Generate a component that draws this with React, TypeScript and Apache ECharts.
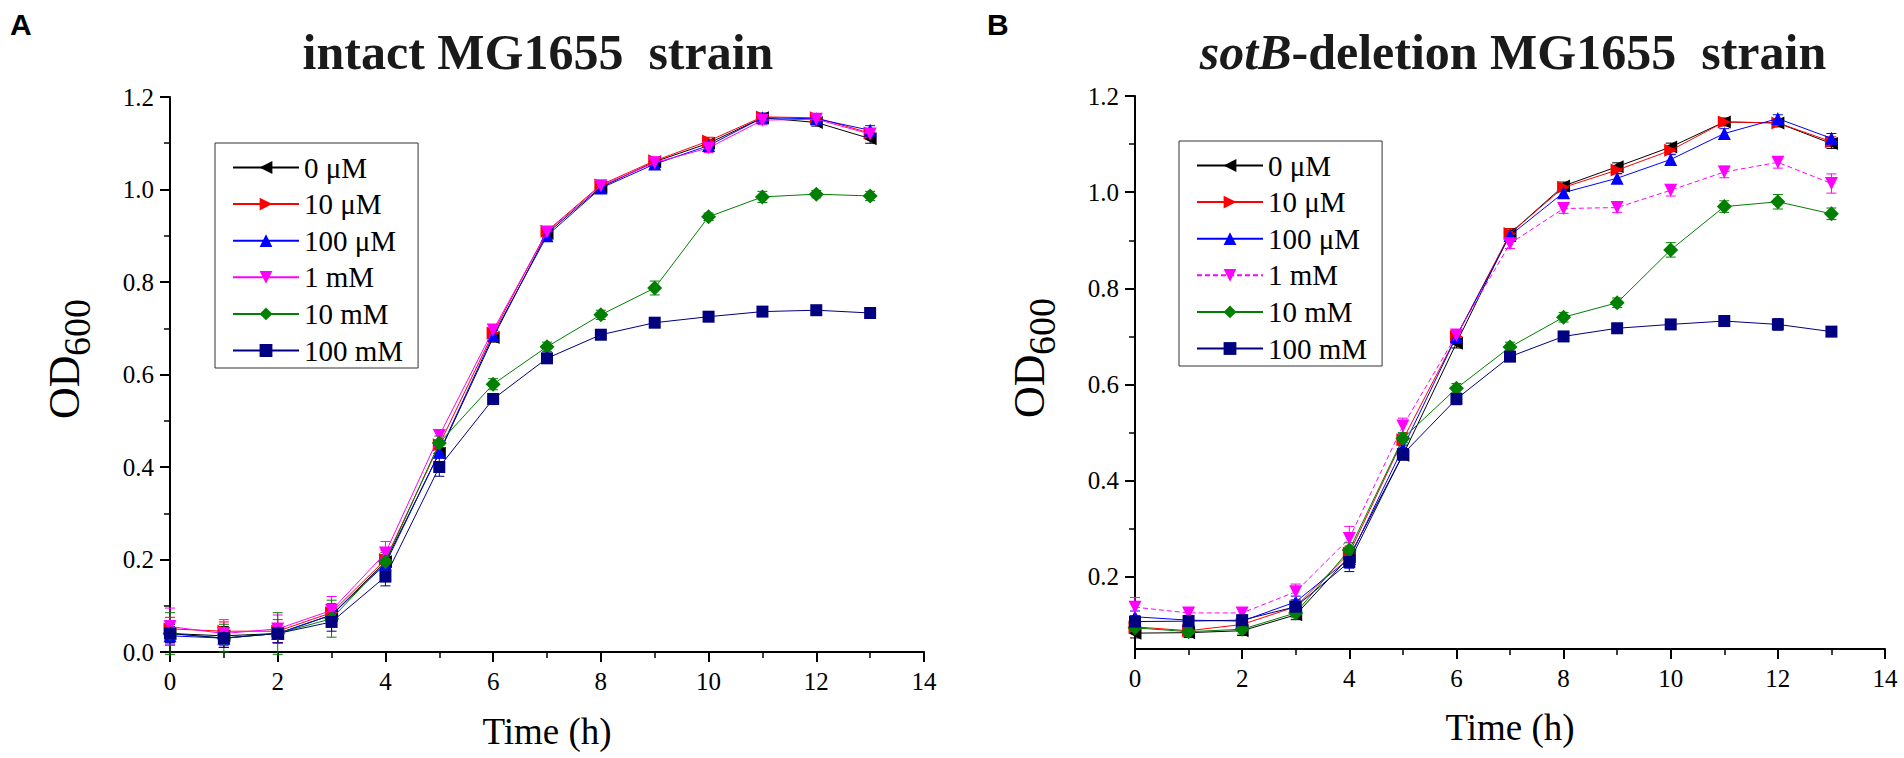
import React, { useEffect, useRef } from "react";
import * as echarts from "echarts";

// ---------------- data ----------------
const TIME_H = [0, 1, 2, 3, 4, 5, 6, 7, 8, 9, 10, 11, 12, 13];
const SERIES_NAMES = ["0 μM", "10 μM", "100 μM", "1 mM", "10 mM", "100 mM"];
const Y_TICKS_B = [0.2, 0.4, 0.6, 0.8, 1.0, 1.2];
const Y_MINOR_B = [0.1, 0.3, 0.5, 0.7, 0.9, 1.1];

// Panel A: intact MG1655 strain (OD600)
const A_0UM = [0.04, 0.035, 0.04, 0.08, 0.195, 0.43, 0.68, 0.905, 1.005, 1.06, 1.1, 1.155, 1.145, 1.11];
const A_10UM = [0.05, 0.045, 0.045, 0.085, 0.2, 0.448, 0.69, 0.91, 1.01, 1.062, 1.105, 1.157, 1.155, 1.122];
const A_100UM = [0.035, 0.03, 0.04, 0.08, 0.19, 0.432, 0.685, 0.9, 1.003, 1.055, 1.095, 1.155, 1.153, 1.128];
const A_1MM = [0.055, 0.04, 0.05, 0.09, 0.214, 0.468, 0.696, 0.908, 1.008, 1.058, 1.09, 1.15, 1.152, 1.12];
const A_10MM = [0.04, 0.03, 0.04, 0.072, 0.195, 0.452, 0.579, 0.66, 0.729, 0.787, 0.941, 0.984, 0.99, 0.986];
const A_100MM = [0.04, 0.03, 0.04, 0.065, 0.163, 0.4, 0.547, 0.635, 0.686, 0.712, 0.725, 0.736, 0.739, 0.733];

const A_ERR_0UM = [0.02, 0.02, 0.02, 0.015, 0.015, 0.01, 0.01, 0.01, 0.008, 0.008, 0.008, 0.008, 0.008, 0.01];
const A_ERR_10UM = [0.025, 0.02, 0.025, 0.02, 0.02, 0.01, 0.01, 0.01, 0.008, 0.008, 0.008, 0.008, 0.008, 0.01];
const A_ERR_100UM = [0.02, 0.02, 0.02, 0.015, 0.015, 0.01, 0.01, 0.01, 0.008, 0.008, 0.008, 0.01, 0.008, 0.01];
const A_ERR_1MM = [0.04, 0.03, 0.03, 0.03, 0.025, 0.012, 0.012, 0.01, 0.008, 0.008, 0.01, 0.01, 0.008, 0.01];
const A_ERR_10MM = [0.045, 0.03, 0.045, 0.04, 0.02, 0.015, 0.012, 0.01, 0.01, 0.015, 0.008, 0.012, 0.008, 0.01];
const A_ERR_100MM = [0.02, 0.02, 0.02, 0.02, 0.02, 0.02, 0.012, 0.01, 0.01, 0.01, 0.008, 0.008, 0.008, 0.008];

// Panel B: sotB-deletion MG1655 strain (OD600)
const B_0UM = [0.083, 0.084, 0.088, 0.121, 0.242, 0.453, 0.686, 0.914, 1.013, 1.053, 1.094, 1.146, 1.144, 1.101];
const B_10UM = [0.096, 0.088, 0.101, 0.138, 0.249, 0.485, 0.7, 0.914, 1.01, 1.046, 1.087, 1.146, 1.144, 1.105];
const B_100UM = [0.117, 0.11, 0.108, 0.148, 0.238, 0.468, 0.7, 0.91, 0.999, 1.029, 1.068, 1.122, 1.153, 1.112];
const B_1MM = [0.137, 0.125, 0.125, 0.169, 0.28, 0.514, 0.703, 0.893, 0.966, 0.968, 1.004, 1.042, 1.062, 1.018];
const B_10MM = [0.094, 0.086, 0.091, 0.125, 0.256, 0.488, 0.592, 0.678, 0.74, 0.77, 0.88, 0.97, 0.98, 0.955];
const B_100MM = [0.107, 0.108, 0.11, 0.138, 0.231, 0.455, 0.57, 0.658, 0.7, 0.717, 0.725, 0.732, 0.725, 0.71];

const B_ERR_0UM = [0.01, 0.01, 0.01, 0.01, 0.015, 0.01, 0.01, 0.01, 0.008, 0.008, 0.008, 0.008, 0.008, 0.01];
const B_ERR_10UM = [0.01, 0.01, 0.01, 0.01, 0.015, 0.012, 0.01, 0.01, 0.008, 0.008, 0.008, 0.008, 0.008, 0.01];
const B_ERR_100UM = [0.012, 0.01, 0.01, 0.012, 0.02, 0.012, 0.01, 0.01, 0.01, 0.01, 0.01, 0.01, 0.008, 0.01];
const B_ERR_1MM = [0.02, 0.008, 0.008, 0.016, 0.025, 0.016, 0.01, 0.01, 0.01, 0.01, 0.012, 0.012, 0.012, 0.02];
const B_ERR_10MM = [0.01, 0.01, 0.01, 0.01, 0.015, 0.012, 0.01, 0.01, 0.01, 0.01, 0.015, 0.012, 0.015, 0.012];
const B_ERR_100MM = [0.012, 0.01, 0.01, 0.012, 0.02, 0.012, 0.012, 0.01, 0.01, 0.01, 0.01, 0.01, 0.012, 0.01];

// ---------------- styles ----------------
const COLORS = ["#000000", "#ff0000", "#0000ff", "#ff00ff", "#008000", "#000080"];
const SYMBOLS = ["triangle", "triangle", "triangle", "triangle", "diamond", "rect"];
const ROTATES = [90, -90, 0, 180, 0, 0];
const SIZES = [13, 13, 13, 13, 15, 12];
const SERIF = "Liberation Serif";
const SANS = "Liberation Sans";

function buildSeries(values: number[][], errs: number[][], dashed: number) {
  const out: any[] = [];
  values.forEach((vals, i) => {
    const color = COLORS[i];
    out.push({
      type: "custom",
      name: SERIES_NAMES[i] + " err",
      silent: true,
      z: 1,
      data: TIME_H.map((t, j) => [t, vals[j] - errs[i][j], vals[j] + errs[i][j]]),
      encode: { x: 0, y: [1, 2] },
      renderItem: (params: any, api: any) => {
        const t = api.value(0);
        const lo = api.coord([t, api.value(1)]);
        const hi = api.coord([t, api.value(2)]);
        const w = 5;
        const st = { stroke: color, lineWidth: 1 };
        return {
          type: "group",
          children: [
            { type: "line", shape: { x1: lo[0], y1: lo[1], x2: hi[0], y2: hi[1] }, style: st },
            { type: "line", shape: { x1: lo[0] - w, y1: lo[1], x2: lo[0] + w, y2: lo[1] }, style: st },
            { type: "line", shape: { x1: hi[0] - w, y1: hi[1], x2: hi[0] + w, y2: hi[1] }, style: st },
          ],
        };
      },
    });
  });
  values.forEach((vals, i) => {
    out.push({
      type: "line",
      name: SERIES_NAMES[i],
      data: TIME_H.map((t, j) => [t, vals[j]]),
      symbol: SYMBOLS[i],
      symbolSize: SIZES[i],
      symbolRotate: ROTATES[i],
      showSymbol: true,
      z: 2 + i,
      itemStyle: { color: COLORS[i] },
      lineStyle: { color: COLORS[i], width: 1, type: i === dashed ? [5, 3] : "solid" },
      emphasis: { disabled: true },
    });
  });
  return out;
}

const tickStyle = { color: "#000", width: 2 };

function xAxisOpt() {
  return {
    type: "value",
    min: 0,
    max: 14,
    interval: 2,
    axisLine: { show: true, onZero: false, lineStyle: tickStyle },
    axisTick: { show: true, length: 10, lineStyle: tickStyle },
    minorTick: { show: true, splitNumber: 2, length: 6, lineStyle: { color: "#000", width: 1.5 } },
    splitLine: { show: false },
    minorSplitLine: { show: false },
    axisLabel: { fontSize: 25, fontFamily: SERIF, color: "#000", margin: 17 },
  };
}

const LEGEND_TEXT = { fontSize: 29, lineHeight: 29, fontFamily: SERIF, fontWeight: "normal", color: "#000" };

function legendOpt(left: number, top: number) {
  return {
    orient: "vertical",
    left,
    top,
    data: SERIES_NAMES.map((n) => ({ name: n, textStyle: LEGEND_TEXT })),
    itemWidth: 66,
    itemHeight: 16,
    itemGap: 7.6,
    padding: [10, 15, 3, 17],
    borderColor: "#333",
    borderWidth: 1,
    selectedMode: false,
    textStyle: LEGEND_TEXT,
  };
}

function odLabel(xOD: number, xSub: number, yBottom: number) {
  return [
    {
      type: "text",
      x: xOD,
      y: yBottom,
      rotation: Math.PI / 2,
      style: { text: "OD", fontSize: 44, fontFamily: SERIF, fill: "#000", align: "left", verticalAlign: "middle" },
    },
    {
      type: "text",
      x: xSub,
      y: yBottom - 63,
      rotation: Math.PI / 2,
      style: { text: "600", fontSize: 38, fontFamily: SERIF, fill: "#000", align: "left", verticalAlign: "middle" },
    },
  ];
}

const optionA: any = {
  animation: false,
  backgroundColor: "#ffffff",
  grid: { left: 170, top: 97, width: 754, height: 555, containLabel: false },
  xAxis: xAxisOpt(),
  yAxis: {
    type: "value",
    min: 0,
    max: 1.2,
    interval: 0.2,
    axisLine: { show: true, lineStyle: tickStyle },
    axisTick: { show: true, length: 10, lineStyle: tickStyle },
    minorTick: { show: true, splitNumber: 2, length: 6, lineStyle: { color: "#000", width: 1.5 } },
    splitLine: { show: false },
    minorSplitLine: { show: false },
    axisLabel: { fontSize: 25, fontFamily: SERIF, color: "#000", margin: 16, formatter: (v: number) => v.toFixed(1) },
  },
  legend: legendOpt(215, 143),
  series: buildSeries(
    [A_0UM, A_10UM, A_100UM, A_1MM, A_10MM, A_100MM],
    [A_ERR_0UM, A_ERR_10UM, A_ERR_100UM, A_ERR_1MM, A_ERR_10MM, A_ERR_100MM],
    -1
  ),
  graphic: [
    { type: "text", x: 10, y: 24, style: { text: "A", fontSize: 30, fontWeight: "bold", fontFamily: SANS, fill: "#000", align: "left", verticalAlign: "middle" } },
    { type: "text", x: 538, y: 52, style: { text: "intact MG1655  strain", fontSize: 50, fontWeight: "bold", fontFamily: SERIF, fill: "#1a1a1a", align: "center", verticalAlign: "middle" } },
    { type: "text", x: 547, y: 731, style: { text: "Time (h)", fontSize: 37, fontFamily: SERIF, fill: "#000", align: "center", verticalAlign: "middle" } },
    ...odLabel(64, 77, 419),
  ],
};

const optionB: any = {
  animation: false,
  backgroundColor: "#ffffff",
  grid: { left: 183, top: 96, width: 750, height: 553, containLabel: false },
  xAxis: xAxisOpt(),
  yAxis: [
    {
      type: "value",
      min: 0.05,
      max: 1.2,
      axisLine: { show: true, lineStyle: tickStyle },
      axisTick: { show: true, length: 10, lineStyle: tickStyle, customValues: Y_TICKS_B },
      splitLine: { show: false },
      axisLabel: { fontSize: 25, fontFamily: SERIF, color: "#000", margin: 16, customValues: Y_TICKS_B, formatter: (v: number) => v.toFixed(1) },
    },
    {
      type: "value",
      min: 0.05,
      max: 1.2,
      position: "left",
      axisLine: { show: false },
      axisTick: { show: true, length: 6, lineStyle: { color: "#000", width: 1.5 }, customValues: Y_MINOR_B },
      splitLine: { show: false },
      axisLabel: { show: false },
    },
  ],
  legend: legendOpt(227, 141),
  series: buildSeries(
    [B_0UM, B_10UM, B_100UM, B_1MM, B_10MM, B_100MM],
    [B_ERR_0UM, B_ERR_10UM, B_ERR_100UM, B_ERR_1MM, B_ERR_10MM, B_ERR_100MM],
    3
  ),
  graphic: [
    { type: "text", x: 35, y: 24, style: { text: "B", fontSize: 30, fontWeight: "bold", fontFamily: SANS, fill: "#000", align: "left", verticalAlign: "middle" } },
    {
      type: "text",
      x: 561,
      y: 52,
      style: {
        text: "{i|sotB}{n|-deletion MG1655  strain}",
        fontSize: 50,
        fontWeight: "bold",
        fontFamily: SERIF,
        fill: "#1a1a1a",
        align: "center",
        verticalAlign: "middle",
        rich: {
          i: { fontSize: 50, fontWeight: "bold", fontStyle: "italic", fontFamily: SERIF, fill: "#1a1a1a" },
          n: { fontSize: 50, fontWeight: "bold", fontFamily: SERIF, fill: "#1a1a1a" },
        },
      },
    },
    { type: "text", x: 558, y: 727, style: { text: "Time (h)", fontSize: 37, fontFamily: SERIF, fill: "#000", align: "center", verticalAlign: "middle" } },
    ...odLabel(77, 90, 418),
  ],
};

function Panel({ option, style }: { option: any; style: React.CSSProperties }) {
  const ref = useRef<HTMLDivElement>(null);
  useEffect(() => {
    if (!ref.current) return;
    const chart = echarts.init(ref.current, undefined, { renderer: "svg" });
    chart.setOption(option);
    return () => chart.dispose();
  }, [option]);
  return <div ref={ref} style={style} />;
}

export default function App() {
  return (
    <div style={{ position: "absolute", left: 0, top: 0, width: 1904, height: 758, background: "#fff" }}>
      <Panel option={optionA} style={{ position: "absolute", left: 0, top: 0, width: 952, height: 758 }} />
      <Panel option={optionB} style={{ position: "absolute", left: 952, top: 0, width: 952, height: 758 }} />
    </div>
  );
}
